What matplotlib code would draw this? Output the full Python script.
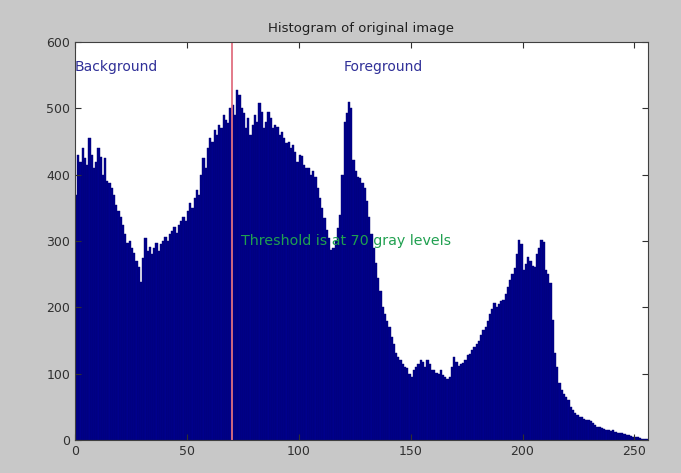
import numpy as np
import matplotlib.pyplot as plt

# gray levels 0..255 and their pixel counts
gray_levels = np.arange(256)
counts = [
    370, 430, 420, 440, 425, 415, 455, 430, 410, 420, 440, 427, 400, 425, 390, 388,
    380, 370, 355, 345, 336, 325, 310, 297, 300, 290, 282, 270, 261, 238, 275, 305,
    285, 291, 280, 290, 297, 285, 295, 300, 306, 300, 310, 315, 321, 312, 325, 330,
    336, 330, 345, 357, 350, 365, 377, 370, 400, 425, 410, 440, 455, 450, 468, 460,
    475, 470, 490, 483, 478, 500, 505, 490, 528, 520, 500, 493, 470, 485, 460, 475,
    490, 480, 508, 495, 470, 480, 495, 485, 470, 475, 472, 460, 465, 455, 448, 450,
    440, 445, 435, 420, 430, 428, 415, 410, 410, 400, 405, 397, 380, 365, 350, 335,
    317, 305, 287, 290, 300, 320, 340, 400, 480, 493, 510, 500, 422, 405, 397, 395,
    388, 380, 360, 336, 310, 290, 267, 245, 225, 201, 190, 180, 170, 155, 145, 131,
    125, 120, 115, 110, 108, 100, 95, 105, 110, 115, 121, 118, 110, 121, 115, 105,
    106, 101, 100, 106, 98, 95, 92, 95, 110, 125, 118, 112, 115, 116, 120, 128,
    130, 135, 140, 145, 150, 158, 166, 170, 180, 190, 198, 207, 200, 205, 210, 211,
    220, 230, 241, 250, 260, 280, 302, 295, 256, 265, 276, 270, 262, 261, 280, 290,
    302, 298, 256, 250, 237, 181, 131, 110, 86, 75, 70, 65, 60, 50, 45, 40,
    38, 35, 35, 32, 30, 30, 28, 25, 22, 20, 20, 18, 16, 15, 15, 14,
    15, 12, 11, 10, 10, 9, 8, 7, 6, 5, 5, 4, 3, 2, 2, 1,
]
threshold = 70
x_ticks = [0, 50, 100, 150, 200, 250]
y_ticks = [0, 100, 200, 300, 400, 500, 600]

fig = plt.figure(figsize=(6.81, 4.73), dpi=100, facecolor='#c8c8c8')
ax = fig.add_axes([0.110, 0.0698, 0.8414, 0.841])

ax.bar(gray_levels, counts, width=1.0, align='edge', color='#00008c',
       edgecolor='#000070', linewidth=0.3)
ax.axvline(threshold, color='#e07080', linewidth=1.3)

ax.text(0, 562, 'Background', color='#303098', fontsize=10, va='center')
ax.text(120, 562, 'Foreground', color='#303098', fontsize=10, va='center')
ax.text(74, 300, 'Threshold is at 70 gray levels', color='#20a050',
        fontsize=10.3, va='center')

ax.set_xlim(0, 256)
ax.set_ylim(0, 600)
ax.set_xticks(x_ticks)
ax.set_yticks(y_ticks)
ax.tick_params(direction='in', top=True, right=True, labelsize=9,
               colors='#303030', length=4)
for s in ax.spines.values():
    s.set_color('#404040')
ax.set_title('Histogram of original image', fontsize=9.5, color='#202020', pad=7)

fig.savefig('out.png', dpi=100, facecolor=fig.get_facecolor())
